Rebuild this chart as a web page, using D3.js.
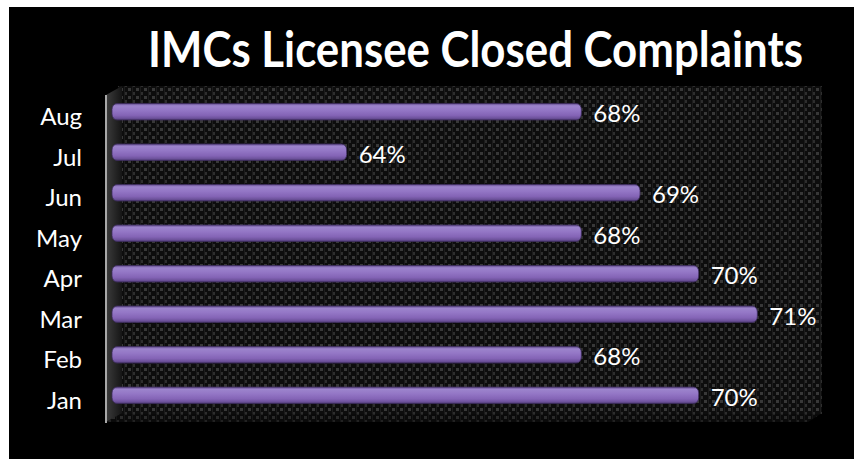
<!DOCTYPE html>
<html>
<head>
<meta charset="utf-8">
<script src="https://cdn.jsdelivr.net/npm/d3@7"></script>
<style>
  html, body { margin: 0; padding: 0; background: #ffffff; }
  svg { display: block; }
</style>
</head>
<body>
<svg id="chart" width="857" height="459"></svg>
<script>
// Monthly share of licensee complaints closed
const months = ["Jan", "Feb", "Mar", "Apr", "May", "Jun", "Jul", "Aug"];
const closedShare = [0.70, 0.68, 0.71, 0.70, 0.68, 0.69, 0.64, 0.68];
const axisDomain = [0.60, 0.72];
const titleText = "IMCs Licensee Closed Complaints";

const svg = d3.select("#chart");
const defs = svg.append("defs");
const labelFont = "Lato, 'Open Sans', sans-serif";

// dotted backdrop texture for the plot area
const pat = defs.append("pattern")
  .attr("id", "dots")
  .attr("patternUnits", "userSpaceOnUse")
  .attr("width", 8).attr("height", 8);
pat.append("rect").attr("width", 8).attr("height", 8).attr("fill", "#0d0d0d");
pat.append("rect").attr("x", 0).attr("y", 0).attr("width", 3).attr("height", 3).attr("fill", "#383838");
pat.append("rect").attr("x", 4).attr("y", 4).attr("width", 3).attr("height", 3).attr("fill", "#2e2e2e");
pat.append("rect").attr("x", 4).attr("y", 0).attr("width", 1).attr("height", 8).attr("fill", "#1c1c1c");

// cylinder-like shading for the bars
const grad = defs.append("linearGradient")
  .attr("id", "barFill")
  .attr("x1", 0).attr("y1", 0).attr("x2", 0).attr("y2", 1);
[
  [0, "#5f4889"],
  [0.14, "#9c84cc"],
  [0.4, "#9477c6"],
  [0.72, "#8464b6"],
  [0.9, "#6c519a"],
  [1, "#4a366e"]
].forEach(([o, c]) => grad.append("stop").attr("offset", o).attr("stop-color", c));

const wallGrad = defs.append("linearGradient")
  .attr("id", "wallFill")
  .attr("x1", 0).attr("y1", 0).attr("x2", 1).attr("y2", 0);
wallGrad.append("stop").attr("offset", 0).attr("stop-color", "#3c3c3c");
wallGrad.append("stop").attr("offset", 1).attr("stop-color", "#151515");

// black card
svg.append("rect")
  .attr("x", 9).attr("y", 7)
  .attr("width", 845).attr("height", 452)
  .attr("fill", "#000000");

// scales
const x = d3.scaleLinear().domain(axisDomain).range([112, 816]);
const y = d3.scalePoint().domain(months).range([395.3, 111.7]);
const barH = 16.5;

// plot backdrop with a receding floor and side wall
svg.append("rect")
  .attr("x", 118).attr("y", 86)
  .attr("width", 704).attr("height", 328)
  .attr("fill", "url(#dots)");
svg.append("path")
  .attr("d", "M106,422 L120,413 L822,413 L808,422 Z")
  .attr("fill", "url(#dots)")
  .attr("opacity", 0.75);
svg.append("path")
  .attr("d", "M106,95 L122,86 L122,413 L106,422 Z")
  .attr("fill", "url(#wallFill)");
svg.append("line")
  .attr("x1", 106).attr("x2", 106)
  .attr("y1", 95).attr("y2", 423)
  .attr("stroke", "#a8a8a8")
  .attr("stroke-width", 2);

const data = months.map((m, i) => ({ month: m, value: closedShare[i] }));

// bars
svg.append("g")
  .selectAll("rect")
  .data(data)
  .join("rect")
  .attr("x", x(axisDomain[0]))
  .attr("y", d => y(d.month) - barH / 2)
  .attr("width", d => x(d.value) - x(axisDomain[0]))
  .attr("height", barH)
  .attr("rx", 5).attr("ry", 6)
  .attr("fill", "url(#barFill)")
  .attr("stroke", "#3f2e60")
  .attr("stroke-width", 0.8);

// value labels
const pct = d3.format(".0%");
svg.append("g")
  .selectAll("text")
  .data(data)
  .join("text")
  .attr("x", d => x(d.value) + 12)
  .attr("y", d => y(d.month) + 10.5)
  .attr("fill", "#ffffff")
  .attr("font-family", labelFont)
  .attr("font-size", 24)
  .text(d => pct(d.value));

// category axis
const axisG = svg.append("g")
  .attr("transform", "translate(106,0)")
  .call(d3.axisLeft(y).tickSize(0).tickPadding(24));
axisG.select(".domain").remove();
axisG.selectAll("text")
  .attr("dy", null)
  .attr("y", 13)
  .attr("fill", "#ffffff")
  .attr("font-family", labelFont)
  .attr("font-size", 24);

// title, squeezed horizontally to a fixed width
const titleW = 655, titleCx = 475.5;
const title = svg.append("text")
  .attr("x", 0)
  .attr("y", 0)
  .attr("text-anchor", "middle")
  .attr("fill", "#ffffff")
  .attr("font-family", labelFont)
  .attr("font-weight", "bold")
  .attr("font-size", 50)
  .text(titleText);
const natural = title.node().getComputedTextLength();
title.attr("transform", `translate(${titleCx},67) scale(${titleW / natural},1)`);
</script>
</body>
</html>
